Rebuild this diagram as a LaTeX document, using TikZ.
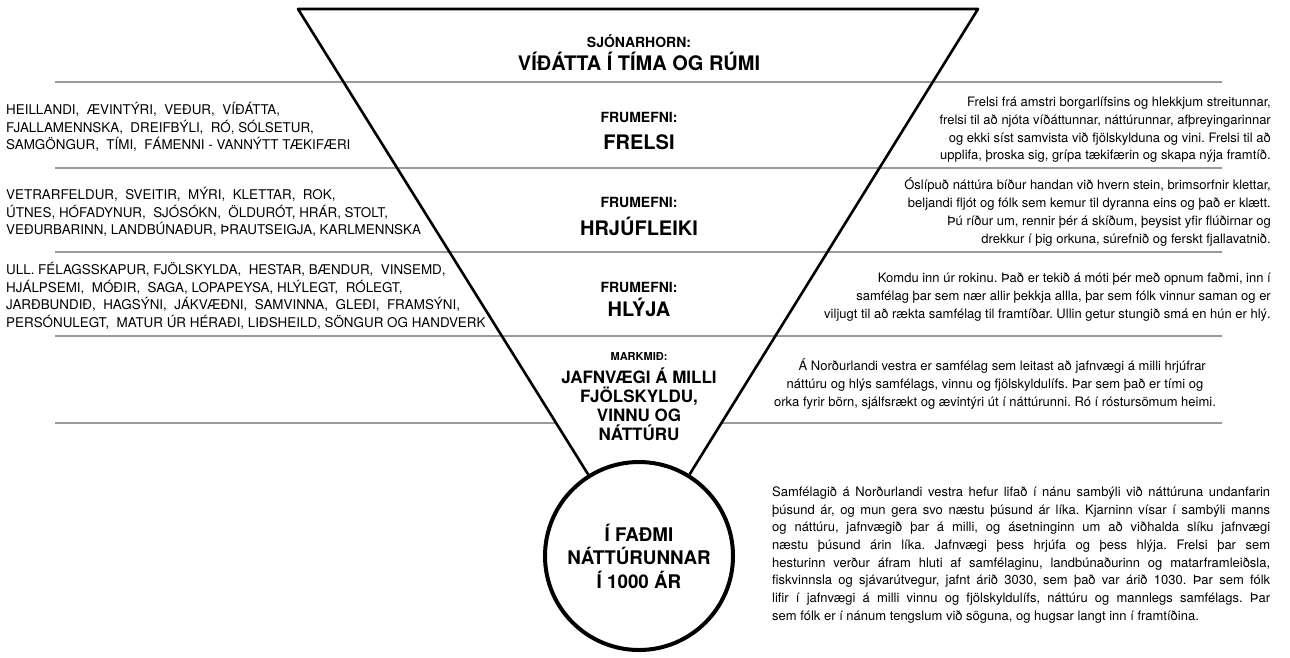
\documentclass[tikz,border=0pt]{standalone}
\usepackage{fontspec}
\setmainfont{TeX Gyre Heros}
\usetikzlibrary{positioning,calc}
\definecolor{rulegray}{HTML}{9A9A9A}
\frenchspacing

\begin{document}
\begin{tikzpicture}[x=1pt,y=-1pt,
    tag/.style={font=\bfseries\fontsize{14}{16}\selectfont},
    big/.style={font=\bfseries\fontsize{20}{22}\selectfont},
    kw/.style={anchor=west, align=left, inner sep=0pt,
      font=\fontsize{13.4}{17.5}\selectfont},
    txt/.style={anchor=east, align=right, inner sep=0pt,
      font=\fontsize{13}{17.7}\selectfont},
    rule/.style={rulegray, line width=1.4pt}]
  \useasboundingbox (0,0) rectangle (1290,657);

  % frame of the funnel
  \coordinate (tl) at (298,9);
  \coordinate (tr) at (978,9);
  \node[circle, draw, line width=4pt, minimum size=188pt, inner sep=0pt,
    align=center, font=\bfseries\fontsize{18.8}{23.5}\selectfont] (ring) at (639,556)
    {Í FAÐMI\\NÁTTÚRUNNAR\\Í 1000 ÁR};

  % rules
  \foreach \y in {82,168,252,336}
    \draw[rule] (55,\y) -- (1222,\y);
  \draw[rule] (55,423) -- (556,423);
  \draw[rule] (720,423) -- (1222,423);

  \draw[line width=2.6pt, line join=round] (ring) -- (tl) -- (tr) -- (ring);

  % middle column
  \node[tag] (view) at (639,41) {SJÓNARHORN:};
  \node[big] (viewtxt) at (639,61) {VÍÐÁTTA Í TÍMA OG RÚMI};
  \node[tag] (el1) at (639,117) {FRUMEFNI:};
  \node[big] (frelsi) at (639,142) {FRELSI};
  \node[tag] (el2) at (639,202) {FRUMEFNI:};
  \node[big] (hrjuf) at (639,226) {HRJÚFLEIKI};
  \node[tag] (el3) at (639,287) {FRUMEFNI:};
  \node[big] (hlyja) at (639,307) {HLÝJA};
  \node[font=\bfseries\fontsize{11}{13}\selectfont] (goal) at (639,356) {MARKMIÐ:};
  \node[align=center, inner sep=0pt, font=\bfseries\fontsize{17}{19}\selectfont]
    (goaltxt) at (639,404) {JAFNVÆGI Á MILLI\\FJÖLSKYLDU,\\VINNU OG\\NÁTTÚRU};

  % left column
  \node[kw] (kw1) at (6,127) {HEILLANDI, \ ÆVINTÝRI, \ VEÐUR, \ VÍÐÁTTA,\\
    FJALLAMENNSKA, \ DREIFBÝLI, \ RÓ, SÓLSETUR,\\
    SAMGÖNGUR, \ TÍMI, \ FÁMENNI - VANNÝTT TÆKIFÆRI};
  \node[kw] (kw2) at (6,212) {VETRARFELDUR, \ SVEITIR, \ MÝRI, \ KLETTAR, \ ROK,\\
    ÚTNES, HÓFADYNUR, \ SJÓSÓKN, \ ÖLDURÓT, HRÁR, STOLT,\\
    VEÐURBARINN, LANDBÚNAÐUR, ÞRAUTSEIGJA, KARLMENNSKA};
  \node[kw] (kw3) at (6,296) {ULL. FÉLAGSSKAPUR, FJÖLSKYLDA, \ HESTAR, BÆNDUR, \ VINSEMD,\\
    HJÁLPSEMI, \ MÓÐIR, \ SAGA, LOPAPEYSA, HLÝLEGT, \ RÓLEGT,\\
    JARÐBUNDIÐ, \ HAGSÝNI, \ JÁKVÆÐNI, \ SAMVINNA, \ GLEÐI, \ FRAMSÝNI,\\
    PERSÓNULEGT, \ MATUR ÚR HÉRAÐI, LIÐSHEILD, SÖNGUR OG HANDVERK};

  % right column
  \node[txt] (tx1) at (1271,130) {Frelsi frá amstri borgarlífsins og hlekkjum streitunnar,\\
    frelsi til að njóta víðáttunnar, náttúrunnar, afþreyingarinnar\\
    og ekki síst samvista við fjölskylduna og vini. Frelsi til að\\
    upplifa, þroska sig, grípa tækifærin og skapa nýja framtíð.};
  \node[txt] (tx2) at (1271,212) {Óslípuð náttúra bíður handan við hvern stein, brimsorfnir klettar,\\
    beljandi fljót og fólk sem kemur til dyranna eins og það er klætt.\\
    Þú ríður um, rennir þér á skíðum, þeysist yfir flúðirnar og\\
    drekkur í þig orkuna, súrefnið og ferskt fjallavatnið.};
  \node[txt] (tx3) at (1271,297) {Komdu inn úr rokinu. Það er tekið á móti þér með opnum faðmi, inn í\\
    samfélag þar sem nær allir þekkja allla, þar sem fólk vinnur saman og er\\
    viljugt til að rækta samfélag til framtíðar. Ullin getur stungið smá en hún er hlý.};
  \node[txt, anchor=center, align=center] (tx4) at (995,384)
    {\ \ \ \ Á Norðurlandi vestra er samfélag sem leitast að jafnvægi á milli hrjúfrar\\
    náttúru og hlýs samfélags, vinnu og fjölskyldulífs. Þar sem það er tími og\\
    orka fyrir börn, sjálfsrækt og ævintýri út í náttúrunni. Ró í róstursömum heimi.};
  \node[txt, anchor=west, align=justify, text width=498pt] (story) at (772,555)
    {Samfélagið á Norðurlandi vestra hefur lifað í nánu sambýli við náttúruna undanfarin\linebreak
    þúsund ár, og mun gera svo næstu þúsund ár líka. Kjarninn vísar í sambýli manns\linebreak
    og náttúru, jafnvægið þar á milli, og ásetninginn um að viðhalda slíku jafnvægi\linebreak
    næstu þúsund árin líka. Jafnvægi þess hrjúfa og þess hlýja. Frelsi þar sem\linebreak
    hesturinn verður áfram hluti af samfélaginu, landbúnaðurinn og matarframleiðsla,\linebreak
    fiskvinnsla og sjávarútvegur, jafnt árið 3030, sem það var árið 1030. Þar sem fólk\linebreak
    lifir í jafnvægi á milli vinnu og fjölskyldulífs, náttúru og mannlegs samfélags. Þar\linebreak
    sem fólk er í nánum tengslum við söguna, og hugsar langt inn í framtíðina.};
\end{tikzpicture}
\end{document}
